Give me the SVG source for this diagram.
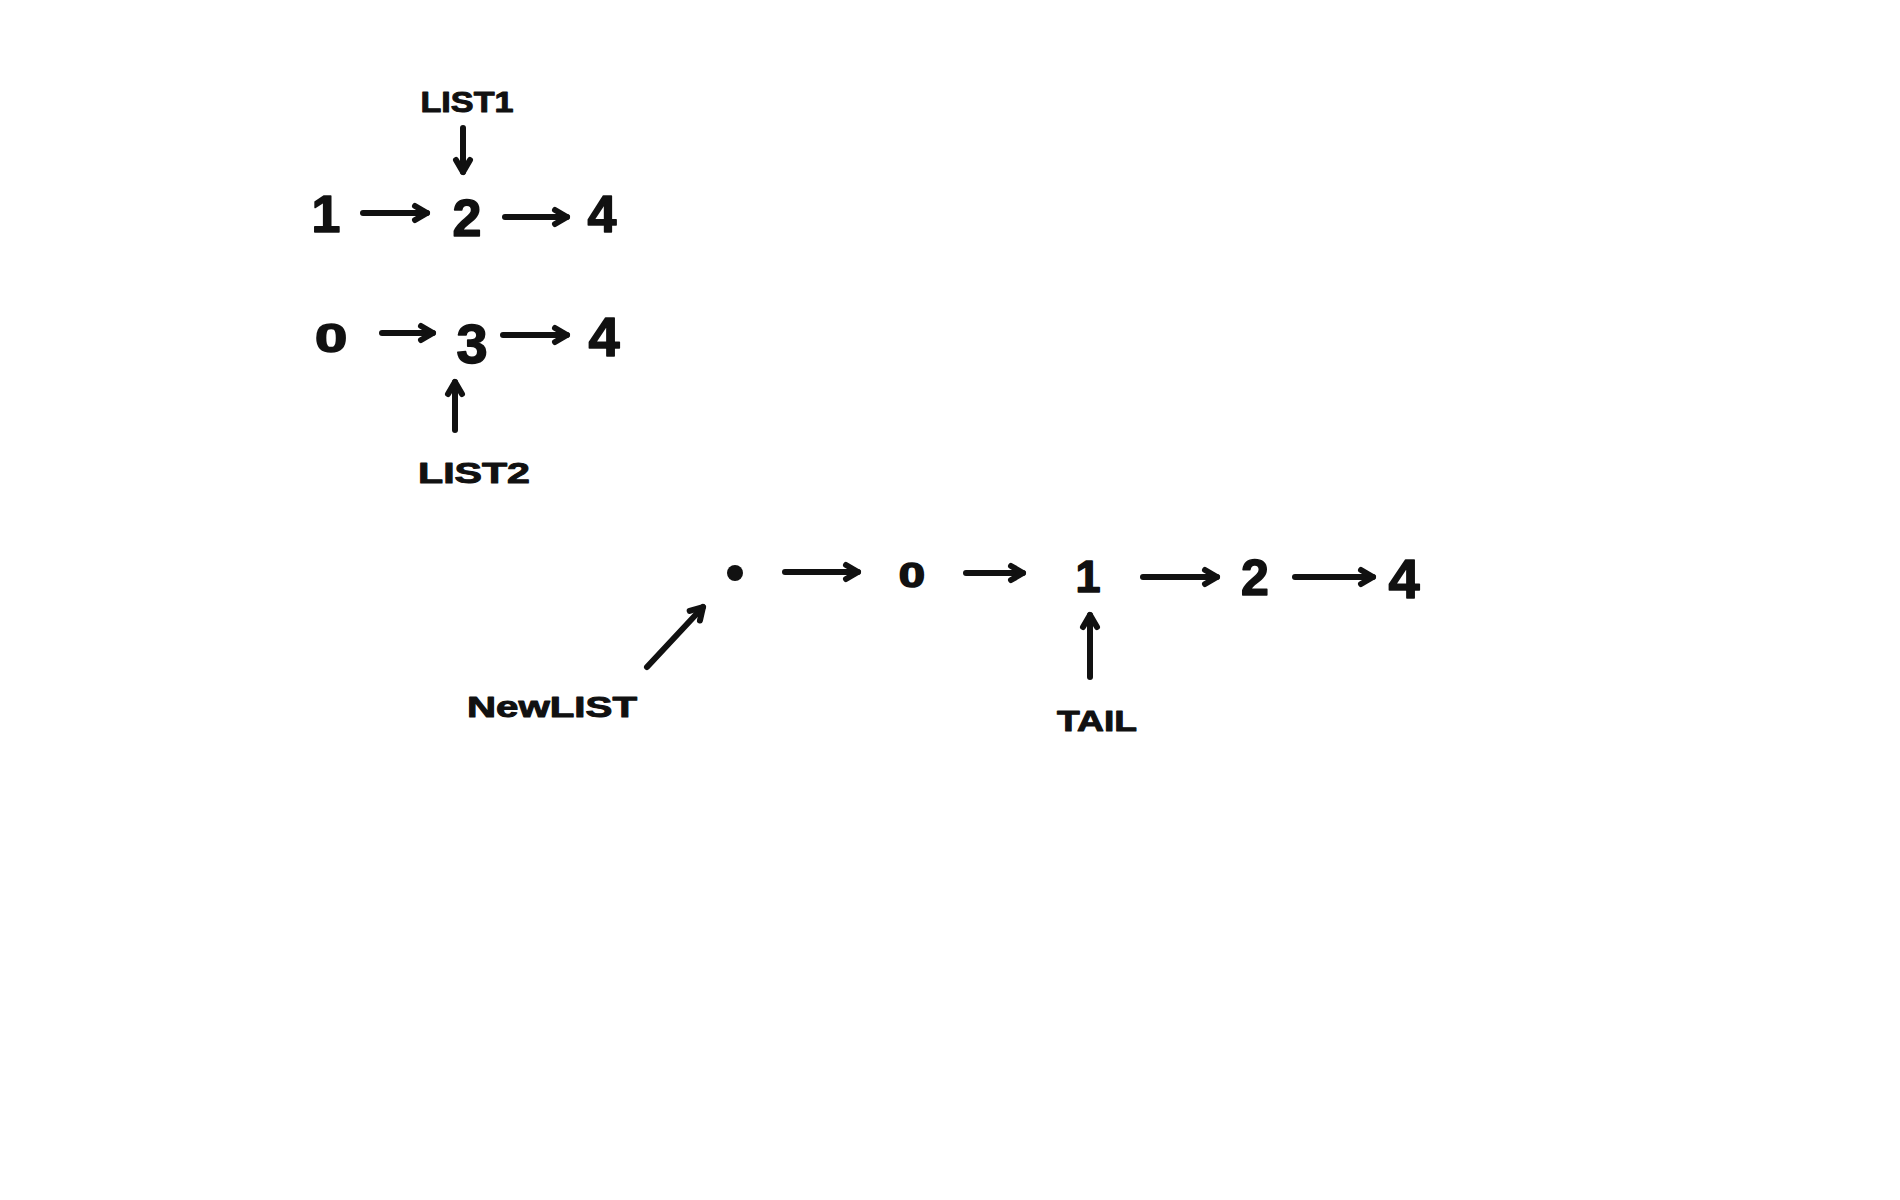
<svg xmlns="http://www.w3.org/2000/svg" width="1900" height="1200" viewBox="0 0 1900 1200">
<style>
.d{font-family:"Liberation Sans",Arial,sans-serif;font-weight:bold;fill:#111;text-anchor:middle;stroke:#111;stroke-width:1.5;stroke-linejoin:round}
.l{font-family:"Liberation Sans",Arial,sans-serif;font-weight:bold;fill:#111;text-anchor:middle;font-size:30px;stroke:#111;stroke-width:1;stroke-linejoin:round}
.c{stroke:#111;stroke-width:6;stroke-linecap:round;fill:none;marker-end:url(#ah)}
</style>
<defs>
<marker id="ah" markerUnits="userSpaceOnUse" viewBox="0 0 24 24" markerWidth="24" markerHeight="24" refX="18" refY="12" orient="auto" overflow="visible">
<path d="M6,5 L18,12 L6,19" fill="none" stroke="#111" stroke-width="6" stroke-linecap="round" stroke-linejoin="round"/>
</marker>
</defs>
<rect width="1900" height="1200" fill="#fff"/>
<g id="nodes">
<g id="list1-label"><text class="l" x="467" y="112" textLength="93" lengthAdjust="spacingAndGlyphs">LIST1</text></g>
<g id="l1-n1"><text class="d" x="326" y="232" font-size="52">1</text></g>
<g id="l1-n2"><text class="d" x="467" y="236" font-size="52">2</text></g>
<g id="l1-n4"><text class="d" x="602" y="232" font-size="52">4</text></g>
<g id="l2-n0"><text class="d" x="0" y="0" font-size="40" transform="translate(331,352) scale(1.45,1)">0</text></g>
<g id="l2-n3"><text class="d" x="472" y="363" font-size="56">3</text></g>
<g id="l2-n4"><text class="d" x="604" y="356" font-size="56">4</text></g>
<g id="list2-label"><text class="l" x="474" y="483" textLength="112" lengthAdjust="spacingAndGlyphs">LIST2</text></g>
<g id="m-dummy"><circle cx="735" cy="573" r="8" fill="#111"/></g>
<g id="m-n0"><text class="d" x="0" y="0" font-size="35" transform="translate(912,587) scale(1.35,1)">0</text></g>
<g id="m-n1"><text class="d" x="1088" y="592" font-size="45">1</text></g>
<g id="m-n2"><text class="d" x="1255" y="595" font-size="50">2</text></g>
<g id="m-n4"><text class="d" x="1404" y="598" font-size="56">4</text></g>
<g id="newlist-label"><text class="l" x="552" y="717" textLength="170" lengthAdjust="spacingAndGlyphs">NewLIST</text></g>
<g id="tail-label"><text class="l" x="1097" y="731" textLength="80" lengthAdjust="spacingAndGlyphs">TAIL</text></g>
</g>
<g id="connectors">
<line class="c" x1="463" y1="128" x2="463" y2="172"/>
<line class="c" x1="363" y1="213" x2="427" y2="213"/>
<line class="c" x1="505" y1="217" x2="567" y2="217"/>
<line class="c" x1="382" y1="333" x2="433" y2="333"/>
<line class="c" x1="503" y1="335" x2="567" y2="335"/>
<line class="c" x1="455" y1="430" x2="455" y2="382"/>
<line class="c" x1="785" y1="572" x2="858" y2="572"/>
<line class="c" x1="966" y1="573" x2="1023" y2="573"/>
<line class="c" x1="1143" y1="577" x2="1217" y2="577"/>
<line class="c" x1="1295" y1="577" x2="1373" y2="577"/>
<line class="c" x1="647" y1="667" x2="703" y2="607"/>
<line class="c" x1="1090" y1="677" x2="1090" y2="615"/>
</g>
</svg>
